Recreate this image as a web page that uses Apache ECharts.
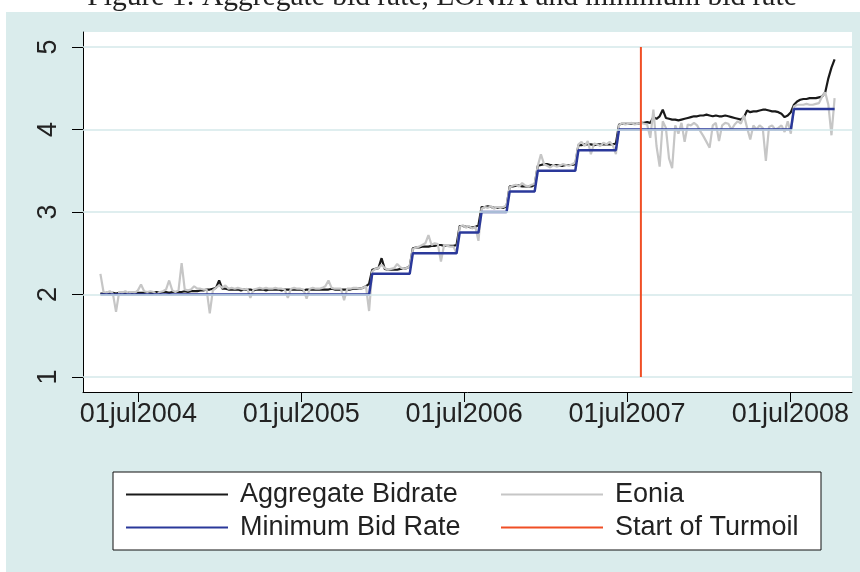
<!DOCTYPE html>
<html><head><meta charset="utf-8">
<script src="https://cdn.jsdelivr.net/npm/echarts@6/dist/echarts.min.js"></script>
<style>html,body{margin:0;padding:0;background:#fff}#c{width:860px;height:572px}</style>
</head><body><div id="c"></div>
<script>
// ---- data (weekly, first auction week 2004-04-07) ----
const firstWeek = [2004, 3, 7];
const aggBid = [
2.01,2.01,2.02,2.01,2.02,2.01,2.02,2.02,2.01,2.02,2.02,2.02,2.02,
2.02,2.02,2.03,2.02,2.02,2.03,2.02,2.03,2.03,2.02,2.03,2.03,2.03,2.03,2.04,2.03,2.04,
2.04,2.04,2.05,2.05,2.06,2.06,2.07,2.08,
2.17,
2.07,2.07,2.06,2.06,2.06,2.06,2.05,2.06,2.06,2.06,
2.05,2.06,2.06,2.06,2.05,2.06,2.06,2.06,2.06,2.05,
2.06,2.06,2.06,2.06,2.06,2.06,2.05,2.06,2.06,2.06,
2.06,2.06,2.06,2.06,2.06,2.07,2.06,2.06,2.06,2.06,
2.06,2.06,2.07,2.07,2.07,2.08,2.10,2.13,
2.30,2.31,2.32,2.44,2.31,2.30,2.30,2.30,2.30,2.31,2.31,2.32,2.34,
2.56,2.57,2.57,2.58,2.58,2.58,2.59,2.59,2.60,2.60,2.59,2.59,2.59,2.59,2.60,
2.83,2.83,2.82,2.82,2.81,2.82,2.84,
3.06,3.06,3.07,3.06,3.05,3.05,3.05,3.05,3.07,
3.31,3.31,3.32,3.32,3.31,3.31,3.31,3.31,3.33,
3.56,3.57,3.58,3.58,3.57,3.57,3.57,3.56,3.56,3.57,3.57,3.57,3.58,
3.81,3.81,3.82,3.82,3.82,3.81,3.82,3.82,3.82,3.82,3.82,3.82,3.83,
4.06,4.07,4.07,4.07,4.07,4.07,4.07,
4.08,4.08,4.09,4.08,4.15,4.13,4.16,4.24,4.14,4.13,4.12,4.12,4.11,
4.12,4.13,4.14,4.15,4.16,4.16,4.17,4.17,4.18,4.17,4.16,4.17,4.16,
4.16,4.17,4.16,4.15,4.14,4.13,4.12,4.15,4.23,4.21,4.22,4.22,4.23,
4.24,4.24,4.23,4.22,4.22,4.21,4.19,4.15,4.17,4.21,
4.30,4.34,4.36,4.37,4.37,4.38,4.38,4.38,4.39,4.40,4.45,4.62,4.75,4.85
];
const eonia = [
2.25,2.03,2.02,2.04,2.01,1.79,2.03,2.02,2.04,2.01,2.03,2.02,2.05,
2.12,2.04,2.03,2.04,2.03,2.00,2.03,2.04,2.06,2.17,2.05,2.03,2.05,2.38,2.06,2.05,2.06,
2.10,2.07,2.07,2.06,2.06,1.77,2.05,2.08,
2.11,
2.08,2.11,2.07,2.08,2.07,2.08,2.07,2.06,2.07,1.96,
2.06,2.07,2.08,2.07,2.08,2.07,2.07,2.08,2.07,2.07,
2.06,1.96,2.07,2.08,2.07,2.07,2.06,1.95,2.07,2.08,
2.07,2.07,2.08,2.10,2.17,2.08,2.07,2.07,2.07,1.93,
2.07,2.07,2.08,2.08,2.07,2.08,2.10,1.80,
2.28,2.31,2.32,2.36,2.32,2.30,2.31,2.32,2.37,2.33,2.31,2.32,2.34,
2.55,2.57,2.58,2.60,2.62,2.72,2.60,2.62,2.61,2.40,2.60,2.59,2.58,2.58,2.50,
2.82,2.84,2.81,2.83,2.80,2.82,2.65,
3.04,3.06,3.05,3.07,3.04,3.06,3.05,3.06,3.08,
3.30,3.32,3.33,3.31,3.35,3.32,3.31,3.33,3.34,
3.56,3.70,3.58,3.56,3.54,3.57,3.55,3.56,3.58,3.57,3.56,3.58,3.60,
3.82,3.85,3.80,3.86,3.70,3.83,3.82,3.80,3.84,3.82,3.85,3.81,3.70,
4.05,4.08,4.06,4.07,4.08,4.06,4.07,
4.08,4.07,4.06,3.90,4.24,3.80,3.55,4.10,4.02,3.65,3.53,4.05,3.95,
4.08,3.85,4.06,4.05,4.08,4.05,3.98,3.92,3.85,3.78,4.05,4.08,3.86,
4.05,4.08,4.07,4.00,4.06,4.10,4.07,4.17,4.02,3.88,4.05,4.00,4.05,
4.02,3.62,4.03,4.05,4.00,4.02,4.05,3.97,4.10,3.95,
4.28,4.30,4.30,4.30,4.31,4.30,4.30,4.31,4.32,4.40,4.45,4.30,3.93,4.38
];
const minBidDates = ['2004-04-07','2005-11-30','2005-12-07','2006-03-01','2006-03-08','2006-06-14','2006-06-21','2006-08-02','2006-08-09','2006-10-04','2006-10-11','2006-12-06','2006-12-13','2007-03-07','2007-03-14','2007-06-06','2007-06-13','2008-07-02','2008-07-09','2008-10-08'];
const minBidValues = [2,2,2.25,2.25,2.5,2.5,2.75,2.75,3,3,3.25,3.25,3.5,3.5,3.75,3.75,4,4,4.25,4.25];
const turmoilDate = '2007-08-01';
const turmoilSpan = [1, 5];
const xTickDates = ['2004-07-01','2005-07-01','2006-07-01','2007-07-01','2008-07-01'];
const xTickLabels = ['01jul2004','01jul2005','01jul2006','01jul2007','01jul2008'];
const yTicks = [1, 2, 3, 4, 5];
const seriesNames = ['Aggregate Bidrate','Eonia','Minimum Bid Rate','Start of Turmoil'];
const titleText = 'Figure 1: Aggregate bid rate, EONIA and minimum bid rate';

// ---- build ----
const pd = s => { const p = s.split('-').map(Number); return new Date(p[0], p[1] - 1, p[2]).getTime(); };
const weeks = [];
for (let i = 0; i < Math.max(aggBid.length, eonia.length); i++) {
  weeks.push(new Date(firstWeek[0], firstWeek[1], firstWeek[2] + 7 * i).getTime());
}
const aggData = aggBid.map((v, i) => [weeks[i], v]);
const eoniaData = eonia.map((v, i) => [weeks[i], v]);
const minData = minBidDates.map((d, i) => [pd(d), minBidValues[i]]);
const turmoilData = turmoilSpan.map(v => [pd(turmoilDate), v]);
const xTickVals = xTickDates.map(pd);
const FONT = '"Liberation Sans", Arial, Helvetica, sans-serif';

const legendCommon = {
  icon: 'rect', itemWidth: 102, itemHeight: 2, padding: 0, selectedMode: false, z: 10,
  textStyle: { fontSize: 27, color: '#222', fontFamily: FONT, padding: [0, 0, 0, 7] }
};

const chart = echarts.init(document.getElementById('c'));
chart.setOption({
  animation: false,
  backgroundColor: '#daecec',
  graphic: [
    { type: 'rect', shape: { x: 0, y: 0, width: 860, height: 12 }, style: { fill: '#fff' }, silent: true },
    { type: 'rect', shape: { x: 0, y: 0, width: 6, height: 572 }, style: { fill: '#fff' }, silent: true },
    { type: 'text', x: 442, y: -3, style: { text: titleText, font: '29.5px "Liberation Serif", "Times New Roman", serif', fill: '#222', textAlign: 'center', textVerticalAlign: 'middle' }, silent: true },
    { type: 'rect', shape: { x: 113, y: 472, width: 708, height: 78 }, style: { fill: '#fff', stroke: '#111', lineWidth: 1 }, silent: true, z: 0 }
  ],
  grid: { left: 83, top: 32, width: 769, height: 360, show: true, backgroundColor: '#fff', borderWidth: 0 },
  xAxis: {
    type: 'value', min: pd('2004-02-28'), max: pd('2008-11-16'),
    axisLine: { lineStyle: { color: '#000', width: 1 } },
    axisTick: { show: true, customValues: xTickVals, length: 10, lineStyle: { color: '#000' } },
    axisLabel: {
      customValues: xTickVals, fontSize: 27, color: '#222', fontFamily: FONT, margin: 9,
      formatter: v => { const k = xTickVals.indexOf(v); return k >= 0 ? xTickLabels[k] : ''; }
    },
    splitLine: { show: false }
  },
  yAxis: {
    type: 'value', min: 0.818, max: 5.182,
    axisLine: { show: true, lineStyle: { color: '#000', width: 1 } },
    axisTick: { show: true, customValues: yTicks, length: 11, lineStyle: { color: '#000' } },
    axisLabel: { customValues: yTicks, rotate: 90, fontSize: 27, color: '#222', fontFamily: FONT, margin: 21 },
    splitLine: { show: false }
  },
  legend: [
    Object.assign({ data: [seriesNames[0]], left: 126, top: 481 }, legendCommon),
    Object.assign({ data: [seriesNames[1]], left: 501, top: 481 }, legendCommon),
    Object.assign({ data: [seriesNames[2]], left: 126, top: 514 }, legendCommon),
    Object.assign({ data: [seriesNames[3]], left: 501, top: 514 }, legendCommon)
  ],
  series: [
    { type: 'line', name: 'grid', data: [], z: 1, silent: true,
      markLine: { silent: true, symbol: 'none', label: { show: false }, animation: false,
        lineStyle: { color: '#d4e8ea', width: 1.5, type: 'solid' },
        data: yTicks.map(v => ({ yAxis: v })) } },
    { type: 'line', name: seriesNames[0], data: aggData, showSymbol: false, symbol: 'none', color: '#1a1a1a', lineStyle: { width: 2.2, color: '#1a1a1a' }, z: 2 },
    { type: 'line', name: seriesNames[1], data: eoniaData, showSymbol: false, symbol: 'none', color: '#c6c6c6', lineStyle: { width: 2.2, color: '#c6c6c6' }, z: 3 },
    { type: 'line', name: seriesNames[2], data: minData, showSymbol: false, symbol: 'none', color: '#2a389a', lineStyle: { width: 2.5, color: '#2a389a' }, z: 4 },
    { type: 'line', name: seriesNames[3], data: turmoilData, showSymbol: false, symbol: 'none', color: '#f04e25', lineStyle: { width: 2, color: '#f04e25' }, z: 5 }
  ]
});
</script></body></html>
